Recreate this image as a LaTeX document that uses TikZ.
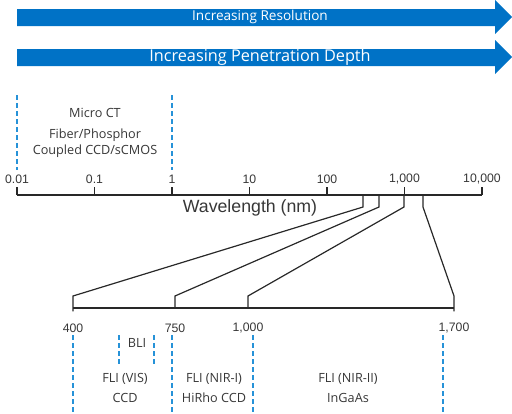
\documentclass[tikz,border=0pt]{standalone}
\usepackage{fontspec}
\setmainfont{Open Sans}
\newfontfamily\axisfont{Liberation Sans}
\usetikzlibrary{positioning}
\definecolor{arrowblue}{RGB}{0,114,198}
\definecolor{dashblue}{RGB}{38,146,216}
\definecolor{linegray}{RGB}{40,40,40}
\definecolor{textgray}{RGB}{55,55,55}

\begin{document}
\begin{tikzpicture}[x=0.75pt, y=-0.75pt, align=center, text=textgray,
    font=\fontsize{9.5}{15}\selectfont,
    bluedash/.style={dashblue, line width=1pt, dash pattern=on 3.5pt off 2.5pt},
    axisline/.style={linegray, line width=1.3pt},
    zoomline/.style={linegray, line width=0.9pt},
    ticklabel/.style={font=\axisfont\fontsize{9.2}{10}\selectfont, inner sep=1pt}]
    \useasboundingbox (0,0) rectangle (512,414);
    % blue arrows
    \fill[arrowblue] (17,9) -- (495,9) -- (495,0) -- (512,17) -- (495,34) -- (495,26) -- (17,26) -- cycle;
    \node[text=white, font=\fontsize{10.2}{12}\selectfont] (res) at (260,17) {Increasing Resolution};
    \fill[arrowblue] (17,49) -- (495,49) -- (495,40) -- (512,57) -- (495,74) -- (495,66) -- (17,66) -- cycle;
    \node[text=white, font=\fontsize{12.2}{14}\selectfont] (pen) at (260,57) {Increasing Penetration Depth};
    % wavelength axis
    \foreach \v [count=\i from 0] in {0.01,0.1,1,10,100,{1,000},{10,000}} {
        \coordinate (t\i) at (17+77.5*\i,195);
        \draw[axisline] (t\i) -- ++(0,-8);
        \node[ticklabel] (l\i) at (17+77.5*\i,179) {\v};
    }
    \draw[axisline] (t0) -- (t6);
    \node[font=\axisfont\fontsize{13.3}{15}\selectfont] (wl) at (250,208) {Wavelength (nm)};
    % micro CT range
    \draw[bluedash] (17,95) -- (17,170);
    \draw[bluedash] (172,95) -- (172,170);
    \node (ct) at (95,113) {Micro CT};
    \node[font=\fontsize{9.5}{12}\selectfont] (fiber) at (95,143) {Fiber/Phosphor\\Coupled CCD/sCMOS};
    % zoom into the optical range
    \foreach \x/\n in {363/a, 379/b, 404/c, 423/d} {
        \coordinate (u\n) at (\x,195);
        \coordinate (k\n) at (\x,207);
    }
    \foreach \x/\n in {73/a, 175/b, 248/c, 454/d} {
        \coordinate (j\n) at (\x,296);
        \coordinate (d\n) at (\x,308);
    }
    \draw[zoomline] (ua) -- (ka) -- (ja) -- ([yshift=-2.5pt]da);
    \draw[zoomline] (ub) -- (kb) -- (jb) -- (db);
    \draw[zoomline] (uc) -- (kc) -- (jc) -- (dc);
    \draw[zoomline] (ud) -- (kd) -- (jd) -- ([yshift=-2.5pt]dd);
    \draw[zoomline] (da) -- (dd);
    \node[ticklabel] (n400) at (73,328) {400};
    \node[ticklabel] (n750) at (175,328) {750};
    \node[ticklabel] (n1000) at (248,328) {1,000};
    \node[ticklabel] (n1700) at (454,328) {1,700};
    % detector ranges
    \foreach \x in {73,172,253,443}
        \draw[bluedash] (\x,335) -- (\x,414);
    \draw[bluedash] (119,335) -- (119,367);
    \draw[bluedash] (154,335) -- (154,367);
    \node (bli) at (137,343) {BLI};
    \node (vis) at (125,388) {FLI (VIS)\\CCD};
    \node (nir1) at (214,388) {FLI (NIR-I)\\HiRho CCD};
    \node (nir2) at (348,388) {FLI (NIR-II)\\InGaAs};
\end{tikzpicture}
\end{document}
